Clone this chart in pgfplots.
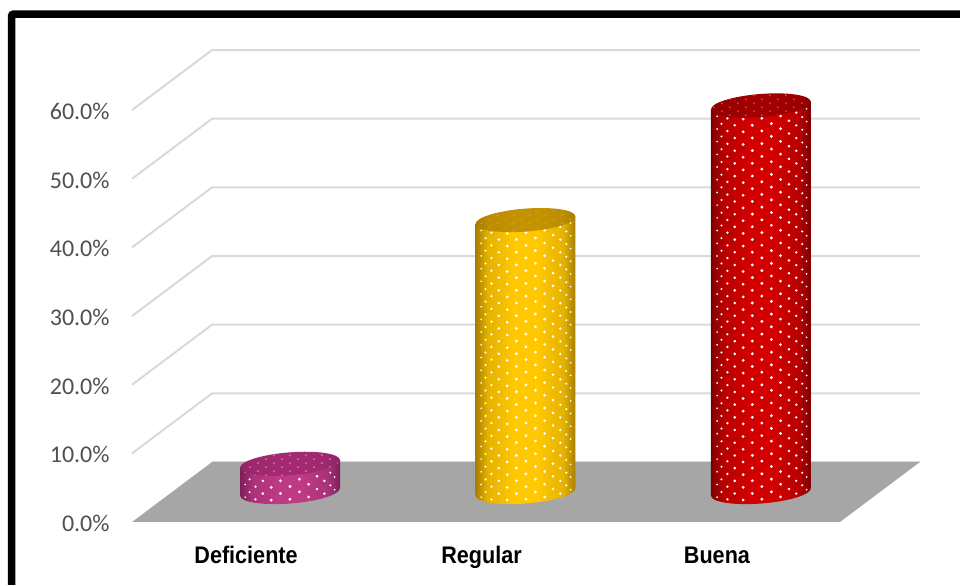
\documentclass[border=0pt]{standalone}
\usepackage{pgfplots}
\pgfplotsset{compat=1.18}
\usepackage{fontspec}
\setmainfont{Carlito}
\newfontfamily\catfont[FakeStretch=0.9]{Liberation Sans}
\usetikzlibrary{patterns}

\definecolor{gridc}{HTML}{D9D9D9}
\definecolor{floorc}{HTML}{A6A6A6}
\definecolor{tickc}{HTML}{505050}
\definecolor{redE}{HTML}{7C0000}
\definecolor{redM}{HTML}{D20000}
\definecolor{redT}{HTML}{A00000}
\definecolor{redTE}{HTML}{880000}
\definecolor{golE}{HTML}{A87E00}
\definecolor{golM}{HTML}{FFC800}
\definecolor{golT}{HTML}{C49200}
\definecolor{golTE}{HTML}{A87E00}
\definecolor{magE}{HTML}{7A1F58}
\definecolor{magM}{HTML}{BE3A85}
\definecolor{magT}{HTML}{A32A72}
\definecolor{magTE}{HTML}{8C2462}

% edge / mid colours of the cylinder sides
\newcommand\cylshade[3]{%
  \pgfdeclarehorizontalshading{#1}{100bp}{color(0bp)=(#2);color(25bp)=(#2);color(31bp)=(#3!70!#2);
    color(44bp)=(#3);color(56bp)=(#3);color(69bp)=(#3!70!#2);color(75bp)=(#2);color(100bp)=(#2)}}
\cylshade{sidered}{redE}{redM}
\cylshade{sidegol}{golE}{golM}
\cylshade{sidemag}{magE}{magM}
\cylshade{topred}{redTE}{redT}
\cylshade{topgol}{golTE}{golT}
\cylshade{topmag}{magTE}{magT}

% white dots wrapped round the side; one tile per 236pt so that all three line up
\pgfdeclarepatternformonly{cyldots}{\pgfpoint{-1pt}{-1pt}}{\pgfpoint{237pt}{14pt}}{\pgfpoint{236pt}{12.7pt}}{%
  \foreach \k in {-6,...,6}{%
    \pgfmathsetmacro\th{\k*11.46}%
    \pgfmathsetmacro\dx{54+48*sin(\th)}%
    \pgfmathsetmacro\dy{mod(6+6.35*abs(\k)-9*cos(\th)+4*sin(\th)+127,12.7)}%
    \pgfmathsetmacro\rr{0.6+1.0*cos(\th)}%
    \pgfpathcircle{\pgfpoint{\dx pt}{\dy pt}}{\rr pt}\pgfusepath{fill}%
  }}
\pgfdeclarepatternformonly{topdots}{\pgfpoint{-1pt}{-1pt}}{\pgfpoint{17pt}{9pt}}{\pgfpoint{16pt}{8pt}}{%
  \pgfpathcircle{\pgfpoint{2pt}{2pt}}{0.8pt}\pgfusepath{fill}%
  \pgfpathcircle{\pgfpoint{10pt}{6pt}}{0.8pt}\pgfusepath{fill}}

% tilted ellipse, in plain pgf since tikz paths land in the wrong place inside a mark
\newcommand\cylpath{\pgfpathellipse{\pgfpointorigin}{\pgfpoint{49.85pt}{3.92pt}}{\pgfpoint{-0.9pt}{11.46pt}}}
\newcommand\cylmarks[2]{%
  \pgfdeclareplotmark{bot#1}{%
    \cylpath\pgfshadepath{side#1}{0}\pgfusepath{discard}%
    \pgfsetfillpattern{cyldots}{white}\cylpath\pgfusepath{fill}}%
  \pgfdeclareplotmark{top#1}{%
    \cylpath\pgfshadepath{top#1}{0}\pgfusepath{discard}%
    \pgfsetfillpattern{topdots}{#2}\cylpath\pgfusepath{fill}}}
\colorlet{redD}{white!45!redT}
\colorlet{golD}{white!25!golT}
\colorlet{magD}{white!70!magT}
\cylmarks{red}{redD}
\cylmarks{gol}{golD}
\cylmarks{mag}{magD}

% one cylinder: index, value, colour key, shift that keeps the slanted bar on its centre
\newcommand\cyl[4]{%
  \addplot[only marks,mark=bot#3] coordinates {(#1,0)};
  \addplot[ybar,bar width=100pt,bar shift=0pt,draw=none,shade,shading=side#3,yshift=#4,yslant=0.0784] coordinates {(#1,#2)};
  \addplot[ybar,bar width=100pt,bar shift=0pt,draw=none,pattern=cyldots,pattern color=white,yshift=#4,yslant=0.0784] coordinates {(#1,#2)};
  \addplot[only marks,mark=top#3] coordinates {(#1,#2)};
}

\begin{document}
\begin{tikzpicture}
% frame, only left and top sides are inside the picture
\draw[overlay,line width=7.5pt,rounded corners=2pt] (11.5pt,0pt) -- (11.5pt,571pt) -- (960pt,571pt);

\begin{axis}[
  at={(0pt,0pt)},anchor=south west,
  scale only axis,width=960pt,height=585pt,
  xmin=-1.04459,xmax=3.03185,
  ymin=-9.1743,ymax=76.0157,
  axis line style={draw=none},
  major tick length=0pt,
  clip=false,
  xtick={0,1,2},
  xticklabels={Deficiente,Regular,Buena},
  x tick label style={font=\catfont\bfseries\fontsize{24}{26}\selectfont,text=black,anchor=base,yshift=21pt},
  ytick={0,10,20,30,40,50,60},
  yticklabels={0.0\%,10.0\%,20.0\%,30.0\%,40.0\%,50.0\%,60.0\%},
  y tick label style={font=\fontsize{24}{26}\selectfont,text=tickc,anchor=east,xshift=113pt,yshift=-1.5pt},
]
\addplot[gridc,line width=2pt] coordinates {(-0.14437,8.737)(2.86200,8.737)};
\addplot[fill=floorc,draw=none] coordinates {(-0.48408,0)(2.52229,0)(2.86200,8.737)(-0.14437,8.737)} --cycle;
\addplot[gridc,line width=2pt] coordinates {(-0.48408,10)(-0.14437,18.737)(2.86200,18.737)};
\addplot[gridc,line width=2pt] coordinates {(-0.48408,20)(-0.14437,28.737)(2.86200,28.737)};
\addplot[gridc,line width=2pt] coordinates {(-0.48408,30)(-0.14437,38.737)(2.86200,38.737)};
\addplot[gridc,line width=2pt] coordinates {(-0.48408,40)(-0.14437,48.737)(2.86200,48.737)};
\addplot[gridc,line width=2pt] coordinates {(-0.48408,50)(-0.14437,58.737)(2.86200,58.737)};
\addplot[gridc,line width=2pt] coordinates {(-0.48408,60)(-0.14437,68.737)(2.86200,68.737)};
\end{axis}

% cylinders stand inside the floor, so their zero is at another height
\begin{axis}[
  at={(0pt,0pt)},anchor=south west,
  scale only axis,width=960pt,height=585pt,
  xmin=-1.23142,xmax=2.84501,
  ymin=-13.5430,ymax=71.6470,
  hide axis,clip=false,
]
\cyl{0}{4.1}{mag}{-22.74pt}
\cyl{1}{39.6}{gol}{-41.24pt}
\cyl{2}{56.3}{red}{-59.70pt}
\end{axis}
\end{tikzpicture}
\end{document}
